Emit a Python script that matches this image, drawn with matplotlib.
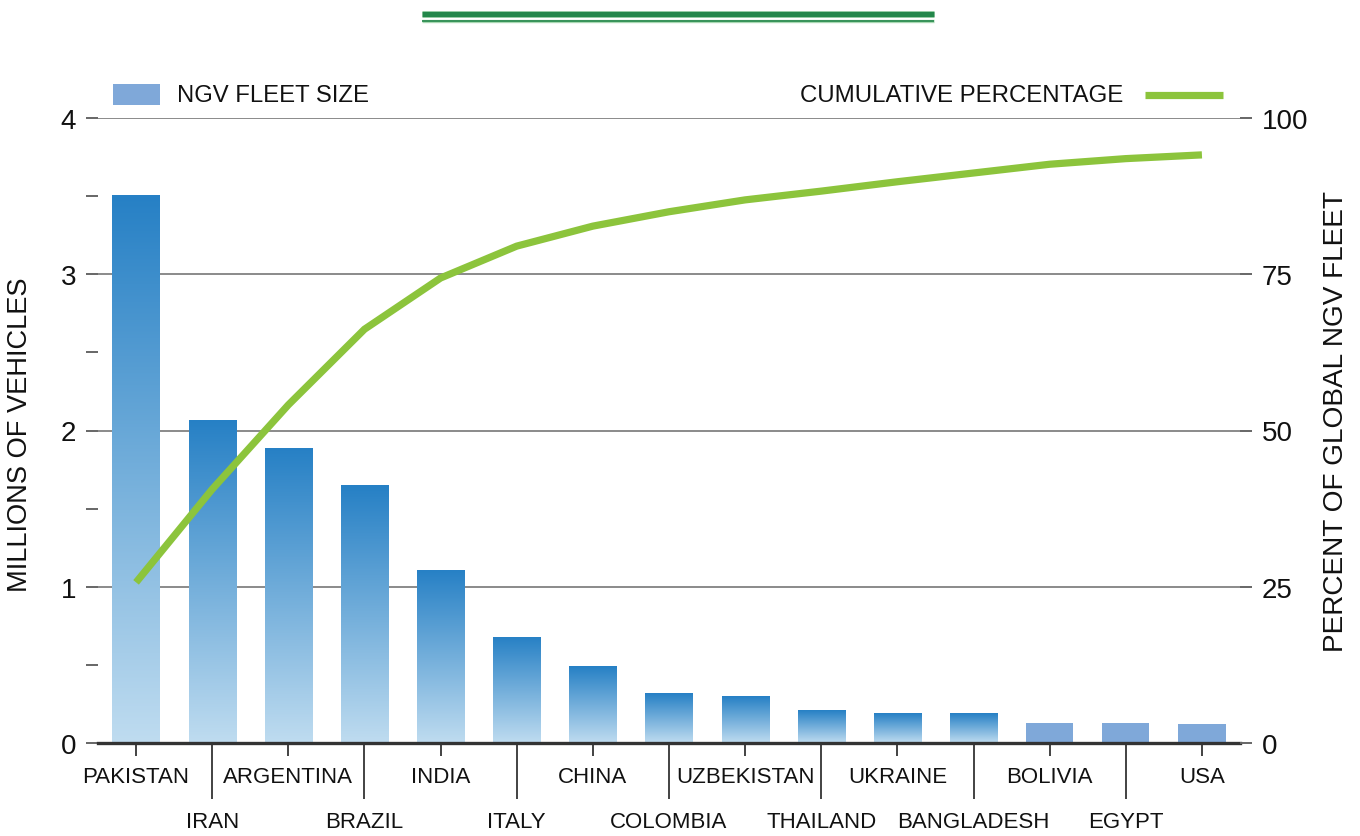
import numpy as np
import matplotlib
matplotlib.use("Agg")
import matplotlib.pyplot as plt
from matplotlib import font_manager
from matplotlib.colors import LinearSegmentedColormap
from matplotlib.patches import Rectangle
from matplotlib.lines import Line2D

# ---- data ----
countries = ["PAKISTAN", "IRAN", "ARGENTINA", "BRAZIL", "INDIA", "ITALY", "CHINA",
             "COLOMBIA", "UZBEKISTAN", "THAILAND", "UKRAINE", "BANGLADESH",
             "BOLIVIA", "EGYPT", "USA"]
fleet_millions = [3.51, 2.07, 1.89, 1.65, 1.11, 0.68, 0.49,
                  0.32, 0.30, 0.21, 0.19, 0.19, 0.13, 0.13, 0.12]
cumulative_pct = [25.7, 40.6, 54.1, 66.2, 74.4, 79.5, 82.7,
                  85.0, 86.9, 88.3, 89.8, 91.2, 92.6, 93.5, 94.1]
gradient_count = 12  # first bars use the blue gradient fill

left_ticks = [0, 1, 2, 3, 4]
right_ticks = [0, 25, 50, 75, 100]

# ---- styling ----
plt.rcParams["font.family"] = ["Liberation Sans", "DejaVu Sans"]
names = {f.name for f in font_manager.fontManager.ttflist}
if "Liberation Sans Narrow" in names:
    xfont, xsize = ["Liberation Sans Narrow", "Liberation Sans"], 18
else:
    xfont, xsize = ["Liberation Sans", "DejaVu Sans"], 16

DARK = "#222222"
GRID = "#8a8a8a"
GREEN = "#8cc43c"
FLAT_BLUE = "#7fa8d9"
grad_cmap = LinearSegmentedColormap.from_list("ngv", ["#bfdcf0", "#2680c5"])

W, H = 1360, 837
fig = plt.figure(figsize=(W / 100, H / 100), dpi=100)
ax = fig.add_axes([98 / W, 1 - 744 / H, (1240 - 98) / W, (744 - 119) / H])

x = np.arange(len(countries))
bar_w = 0.62
bars = ax.bar(x, fleet_millions, width=bar_w, zorder=2)
grad = np.linspace(0, 1, 256).reshape(-1, 1)
for i, b in enumerate(bars):
    if i < gradient_count:
        b.set_facecolor("none")
        b.set_edgecolor("none")
        bx, by = b.get_x(), b.get_y()
        im = ax.imshow(grad, cmap=grad_cmap, origin="lower", aspect="auto",
                       extent=[bx, bx + b.get_width(), by, by + b.get_height()],
                       zorder=2, interpolation="bilinear")
        im.set_clip_path(b)
    else:
        b.set_facecolor(FLAT_BLUE)
        b.set_edgecolor("none")

ax.set_xlim(-0.5, len(countries) - 0.5)
ax.set_ylim(0, 4)
ax.set_yticks(left_ticks)
ax.set_yticks([0.5, 1.5, 2.5, 3.5], minor=True)
ax.yaxis.grid(True, which="major", color=GRID, linewidth=1.4)
ax.set_axisbelow(True)
ax.tick_params(axis="y", which="both", length=8.6, width=1.4, color="#666666",
               labelsize=20, labelcolor="#111111", pad=7)

# alternating x labels: even positions on the upper row, odd on the lower row
even = x[::2]
odd = x[1::2]
ax.set_xticks(even, [countries[i] for i in even])
ax.set_xticks(odd, [countries[i] for i in odd], minor=True)
ax.tick_params(axis="x", which="major", length=9.4, width=1.2, color=DARK, pad=7.5)
ax.tick_params(axis="x", which="minor", length=40, width=1.2, color=DARK, pad=9)
for lab in ax.get_xticklabels(which="both"):
    lab.set_fontfamily(xfont)
    lab.set_fontsize(xsize)
    lab.set_color("#111111")

for s in ["top", "left", "right"]:
    ax.spines[s].set_visible(False)
ax.spines["bottom"].set_color("#333333")
ax.spines["bottom"].set_linewidth(2.4)
ax.spines["bottom"].set_zorder(3)

# cumulative share on the right axis
ax2 = ax.twinx()
ax2.plot(x, cumulative_pct, color=GREEN, linewidth=5.2, solid_joinstyle="miter",
         solid_capstyle="butt", zorder=4)
ax2.set_ylim(0, 100)
ax2.set_yticks(right_ticks)
ax2.tick_params(axis="y", length=8.6, width=1.4, color="#666666",
                labelsize=20, labelcolor="#111111", pad=7)
for s in ["top", "left", "right", "bottom"]:
    ax2.spines[s].set_visible(False)

# axis titles
fig.text(20 / W, 1 - 435 / H, "MILLIONS OF VEHICLES", rotation=90,
         ha="center", va="center", fontsize=19.6, color="#111111")
fig.text(1336 / W, 1 - 422 / H, "PERCENT OF GLOBAL NGV FLEET", rotation=90,
         ha="center", va="center", fontsize=20.2, color="#111111")

# legend entries
fig.add_artist(Rectangle((113 / W, 1 - 106 / H), 47 / W, 21 / H,
                         transform=fig.transFigure, facecolor=FLAT_BLUE,
                         edgecolor="none"))
fig.text(177 / W, 1 - 96 / H, "NGV FLEET SIZE", ha="left", va="center",
         fontsize=17.2, color="#111111")
fig.text(1123 / W, 1 - 96 / H, "CUMULATIVE PERCENTAGE", ha="right", va="center",
         fontsize=17.3, color="#111111")
fig.add_artist(Line2D([1145 / W, 1223 / W], [1 - 96 / H, 1 - 96 / H],
                      transform=fig.transFigure, color=GREEN, linewidth=5.2,
                      solid_capstyle="butt"))

# decorative double rule at the top
for y, lw_light, lw_dark in [(15, 5.0, 3.8), (21.5, 2.4, 1.2)]:
    fig.add_artist(Line2D([422 / W, 934 / W], [1 - y / H, 1 - y / H],
                          transform=fig.transFigure, color="#a8d8b2",
                          linewidth=lw_light, solid_capstyle="butt"))
    fig.add_artist(Line2D([422 / W, 934 / W], [1 - y / H, 1 - y / H],
                          transform=fig.transFigure, color="#23874a",
                          linewidth=lw_dark, solid_capstyle="butt"))

fig.savefig("out.png", dpi=100)
